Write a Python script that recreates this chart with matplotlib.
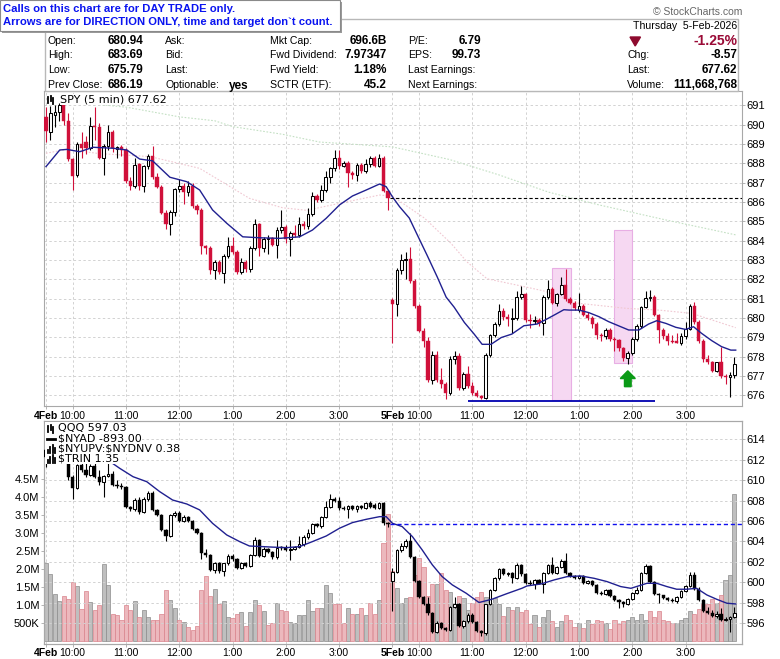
import matplotlib.pyplot as plt
from matplotlib.patches import Rectangle, Polygon, FancyArrow
from matplotlib.lines import Line2D
import numpy as np

plt.rcParams['font.family'] = ['Liberation Sans', 'DejaVu Sans']

# ---- SPY 5 min bars, 4-Feb then 5-Feb (78 bars per session) ----
spy_open = [
    690.4, 689.6, 690.5, 690.65, 691.0, 690.2, 688.2, 687.4, 689.0, 689.1,
    688.8, 689.95, 689.9, 688.3, 688.9, 689.6, 688.75, 688.85, 688.7, 687.1,
    686.85, 687.95, 686.85, 687.85, 688.4, 687.3, 686.8, 685.45, 684.85, 685.5,
    686.65, 686.85, 686.5, 686.85, 685.8, 685.6, 683.7, 683.6, 682.5, 682.9,
    682.35, 683.2, 683.7, 683.4, 682.4, 682.9, 682.55, 683.6, 684.85, 683.6,
    684.1, 684.15, 683.8, 684.55, 684.7, 684.1, 684.4, 684.3, 684.85, 684.75,
    685.4, 686.3, 686.1, 686.6, 687.3, 687.75, 688.3, 687.85, 688.0, 687.5,
    687.4, 687.9, 687.6, 687.95, 688.3, 687.85, 688.3, 686.55,
    680.94, 680.75, 682.5, 683.0, 683.05, 681.9, 680.6, 679.35, 678.8, 676.8,
    678.1, 676.8, 676.6, 676.1, 677.9, 678.05, 676.4, 677.1, 676.5, 676.1,
    675.95, 675.85, 678.1, 679.1, 679.7, 680.35, 680.05, 679.95, 680.0, 681.1,
    681.25, 679.9, 679.85, 679.9, 679.75, 681.1, 681.5, 680.8, 681.25, 681.7,
    681.0, 680.8, 680.4, 680.62, 680.15, 680.0, 679.7, 679.1, 679.05, 679.4,
    678.9, 678.85, 678.45, 677.95, 678.2, 678.9, 679.6, 680.55, 681.05, 681.1,
    680.15, 679.4, 679.05, 678.8, 678.8, 678.72, 679.05, 679.45, 680.6, 679.8,
    678.8, 677.9, 677.7, 677.25, 677.7, 677.0, 676.95, 677.05,
]
spy_high = [
    690.9, 690.95, 691.0, 691.1, 691.2, 690.6, 688.3, 689.1, 689.6, 689.4,
    690.4, 690.9, 690.1, 689.0, 690.0, 689.7, 688.9, 688.95, 688.8, 687.3,
    688.3, 688.0, 687.9, 688.5, 688.9, 687.5, 686.9, 685.6, 685.6, 686.7,
    687.2, 687.0, 687.1, 687.0, 685.9, 685.7, 683.8, 683.7, 683.0, 683.0,
    683.3, 684.2, 684.2, 683.5, 683.1, 683.0, 683.7, 685.1, 684.9, 684.2,
    684.3, 684.2, 684.7, 685.6, 684.8, 684.5, 684.8, 685.2, 685.0, 685.7,
    686.5, 686.4, 686.9, 687.6, 687.8, 688.7, 688.7, 688.1, 688.1, 687.6,
    688.0, 688.0, 688.2, 688.4, 688.4, 688.5, 688.4, 686.6,
    681.05, 682.6, 683.3, 683.4, 683.69, 682.0, 680.7, 679.5, 679.0, 678.3,
    678.3, 677.4, 676.7, 678.05, 678.3, 678.2, 677.2, 677.5, 676.7, 676.3,
    676.0, 678.2, 679.15, 679.8, 680.7, 680.5, 680.2, 680.5, 681.4, 681.65,
    681.3, 680.2, 680.1, 680.0, 681.2, 681.95, 681.6, 681.3, 682.1, 682.55,
    681.1, 680.9, 681.3, 680.7, 680.3, 680.1, 679.8, 679.2, 679.5, 679.5,
    679.0, 678.9, 678.5, 678.3, 679.0, 679.7, 680.6, 681.4, 681.45, 681.2,
    680.2, 679.5, 679.2, 679.1, 679.2, 679.2, 679.8, 680.7, 680.85, 679.9,
    678.9, 678.1, 677.8, 677.75, 678.5, 677.1, 677.2, 678.0,
]
spy_low = [
    689.1, 689.2, 689.9, 690.2, 690.0, 688.1, 686.6, 687.3, 688.3, 688.5,
    688.7, 689.2, 688.2, 687.4, 688.7, 688.6, 688.3, 688.4, 687.0, 686.6,
    686.7, 686.6, 686.5, 687.7, 687.2, 686.7, 685.4, 684.6, 684.3, 685.3,
    686.5, 685.9, 686.3, 685.7, 685.4, 683.3, 683.3, 682.3, 682.0, 682.3,
    681.8, 683.1, 683.3, 682.3, 682.3, 682.4, 682.4, 683.5, 683.2, 683.4,
    683.3, 683.7, 683.1, 684.4, 683.9, 683.2, 684.2, 684.2, 684.6, 684.6,
    685.3, 686.0, 686.0, 686.5, 687.0, 687.6, 687.7, 687.8, 686.8, 687.2,
    687.1, 687.5, 687.5, 687.8, 687.8, 687.8, 686.5, 685.6,
    678.7, 680.1, 682.3, 682.0, 681.8, 680.5, 679.3, 678.5, 676.7, 676.6,
    676.7, 676.4, 675.8, 676.0, 677.6, 676.3, 676.3, 676.4, 676.0, 675.9,
    675.79, 675.8, 678.0, 679.0, 679.6, 679.9, 679.6, 679.2, 679.9, 681.0,
    679.8, 679.5, 679.7, 679.6, 679.1, 681.0, 680.7, 680.6, 681.2, 680.9,
    680.7, 680.4, 680.3, 680.1, 679.9, 679.5, 678.9, 678.8, 678.9, 678.8,
    678.3, 678.3, 677.8, 677.6, 678.1, 678.8, 679.5, 680.5, 680.9, 680.1,
    678.7, 678.9, 678.6, 678.7, 678.7, 678.6, 678.9, 679.4, 679.7, 678.7,
    677.7, 677.6, 677.2, 677.2, 676.9, 676.6, 675.9, 676.9,
]
spy_close = [
    689.65, 690.6, 690.65, 691.0, 690.2, 688.2, 687.35, 689.0, 688.8, 688.8,
    689.95, 689.9, 688.3, 688.9, 689.6, 688.8, 688.85, 688.7, 687.1, 686.85,
    687.9, 686.85, 687.85, 688.4, 687.3, 686.8, 685.45, 684.85, 685.5, 686.65,
    686.85, 686.5, 686.85, 685.8, 685.6, 683.7, 683.6, 682.5, 682.9, 682.4,
    683.2, 683.7, 683.4, 682.4, 682.9, 682.55, 683.6, 684.85, 683.6, 684.1,
    684.15, 683.8, 684.55, 684.7, 684.1, 684.4, 684.3, 684.85, 684.75, 685.4,
    686.3, 686.1, 686.6, 687.3, 687.75, 688.3, 687.85, 688.0, 687.5, 687.4,
    687.9, 687.6, 687.95, 688.3, 687.85, 688.3, 686.55, 686.19,
    680.75, 682.5, 683.0, 683.05, 681.9, 680.6, 679.35, 678.8, 676.8, 678.1,
    676.8, 676.6, 676.1, 677.9, 678.05, 676.4, 677.1, 676.5, 676.1, 675.95,
    675.85, 678.1, 679.1, 679.7, 680.35, 680.05, 679.95, 680.0, 681.1, 681.25,
    679.9, 679.85, 679.9, 679.75, 681.1, 681.5, 680.8, 681.25, 681.7, 681.0,
    680.8, 680.5, 680.62, 680.15, 680.0, 679.7, 679.1, 679.05, 679.4, 678.9,
    678.85, 678.45, 677.95, 678.2, 678.9, 679.6, 680.55, 681.05, 681.1, 680.15,
    679.4, 679.05, 678.8, 678.75, 678.72, 679.05, 679.45, 680.6, 679.8, 678.8,
    677.9, 677.7, 677.25, 677.7, 677.0, 676.95, 677.05, 677.62,
]

# SPY moving averages (bar position, price)
spy_ma_x = [0, 3.1, 4.7, 7.6, 10.6, 15.1, 18.2, 21.1, 24.0, 27.9, 31.7, 34.6, 37.5,
            40.7, 44.3, 48.1, 52.6, 57.1, 60.0, 63.1, 66.1, 69.0, 72.1, 75.1, 76.6,
            78.0, 79.6, 81.8, 83.6, 85.8, 88.1, 90.1, 91.9, 94.2, 96.4, 98.2, 100.2,
            102.5, 104.9, 107.6, 110.6, 112.8, 114.8, 116.6, 117.8, 120.0, 122.2,
            124.5, 126.7, 129.0, 131.2, 133.5, 135.7, 137.5, 139.6, 141.8, 144.0,
            145.8, 147.6, 149.9, 152.1, 154.2, 155.3]
spy_ma_y = [687.83, 688.69, 688.72, 688.6, 688.83, 688.78, 688.69, 688.22, 688.13,
            687.28, 687.05, 686.62, 685.59, 684.9, 684.2, 684.15, 684.12, 684.2,
            684.55, 685.16, 685.85, 686.31, 686.62, 686.93, 686.79, 686.27, 685.76,
            685.17, 684.3, 683.25, 682.12, 681.08, 680.56, 679.77, 679.17, 678.64,
            678.64, 678.99, 679.17, 679.6, 679.69, 679.95, 680.2, 680.43, 680.41,
            680.41, 680.28, 680.07, 679.81, 679.59, 679.38, 679.38, 679.69, 679.86,
            679.72, 679.52, 679.41, 679.55, 679.21, 678.83, 678.52, 678.34, 678.34]
spy_ma50_x = [0, 4.7, 12.1, 23.4, 34.6, 45.8, 53.3, 58.7, 66.1, 75.1, 78.0, 85.2,
              91.2, 94.8, 99.3, 106.1, 112.1, 120.0, 130.6, 138.0, 145.4, 155.3]
spy_ma50_y = [688.52, 688.72, 688.5, 688.35, 687.74, 686.19, 685.7, 685.57, 685.93,
              686.36, 686.3, 685.17, 683.86, 682.9, 682.03, 681.7, 681.4, 680.76,
              680.5, 680.41, 680.24, 679.5]
spy_ma200_x = [7.6, 10.6, 18.2, 30.1, 38.0, 42.0, 53.3, 61.6, 68.3, 78.0, 90.8,
               102.0, 113.3, 124.5, 139.6, 155.3]
spy_ma200_y = [691.3, 691.07, 690.9, 690.4, 690.2, 689.9, 689.5, 689.1, 689.0,
               688.85, 688.2, 687.4, 686.5, 685.85, 685.07, 684.3]

# ---- QQQ 5 min bars ----
qqq_open = [
    613.0, 612.3, 613.2, 613.5, 613.7, 611.8, 610.35, 609.2, 611.5, 611.0,
    610.5, 611.4, 610.3, 609.8, 610.4, 610.6, 609.5, 609.4, 609.3, 607.4,
    607.2, 608.1, 606.9, 608.2, 608.7, 607.1, 606.6, 605.1, 604.5, 606.6,
    606.8, 606.0, 606.4, 606.05, 605.2, 604.8, 602.85, 602.7, 601.2, 601.9,
    601.1, 601.85, 602.6, 602.3, 601.4, 601.9, 601.6, 602.7, 604.1, 602.6,
    603.3, 603.0, 602.5, 603.4, 603.35, 603.2, 603.3, 603.5, 603.8, 604.4,
    604.8, 605.7, 605.5, 606.4, 607.4, 608.2, 608.0, 607.3, 607.2, 607.5,
    607.2, 607.5, 607.3, 607.8, 607.6, 607.3, 607.75, 605.8,
    600.1, 601.05, 603.2, 603.6, 604.0, 602.5, 600.1, 598.6, 597.9, 596.98,
    595.1, 596.0, 595.5, 595.3, 597.6, 597.9, 595.7, 596.2, 596.85, 596.1,
    595.2, 595.0, 597.9, 599.3, 600.4, 601.3, 600.8, 600.9, 600.4, 601.7,
    600.8, 599.95, 599.85, 600.2, 599.85, 600.9, 601.7, 600.9, 601.5, 602.1,
    600.9, 600.6, 600.4, 600.6, 599.9, 600.1, 599.7, 599.0, 598.9, 599.3,
    598.7, 598.3, 598.1, 597.9, 598.4, 599.0, 599.3, 600.9, 601.6, 600.0,
    598.9, 598.75, 598.5, 598.3, 598.15, 598.6, 599.2, 599.6, 600.7, 599.4,
    598.3, 597.2, 597.0, 596.7, 596.9, 596.3, 596.4, 596.6,
]
qqq_high = [
    613.8, 613.5, 613.9, 614.0, 613.8, 611.9, 610.5, 611.6, 611.7, 611.9,
    611.6, 611.8, 611.0, 610.5, 611.9, 610.9, 610.0, 609.7, 609.4, 607.5,
    608.3, 608.4, 608.4, 608.9, 608.9, 607.2, 606.7, 605.2, 606.7, 607.0,
    607.0, 606.6, 606.5, 606.1, 605.3, 604.9, 603.3, 602.8, 602.0, 602.0,
    601.9, 602.8, 602.8, 602.4, 601.95, 602.0, 602.8, 604.4, 604.2, 603.5,
    603.4, 603.1, 604.1, 603.6, 603.7, 604.1, 603.6, 604.5, 604.6, 605.2,
    605.8, 605.8, 606.5, 608.0, 608.6, 608.4, 608.4, 607.5, 607.6, 607.6,
    607.6, 607.6, 607.9, 608.0, 607.8, 607.9, 607.9, 605.9,
    601.4, 603.3, 603.9, 604.2, 604.8, 602.6, 600.2, 598.7, 598.6, 597.1,
    596.2, 596.1, 595.6, 597.7, 598.6, 598.0, 596.3, 597.0, 597.0, 596.2,
    595.3, 597.9, 599.4, 600.5, 601.4, 601.4, 601.0, 601.0, 601.9, 601.8,
    600.9, 600.2, 600.3, 600.3, 601.0, 601.8, 602.5, 601.6, 602.3, 602.9,
    601.0, 600.7, 600.7, 600.7, 600.2, 600.2, 599.8, 599.2, 599.4, 599.4,
    598.8, 598.4, 598.2, 598.5, 599.1, 599.5, 601.0, 601.8, 601.7, 600.1,
    599.0, 598.8, 598.6, 598.5, 598.7, 599.3, 599.7, 601.0, 601.0, 599.5,
    598.4, 597.6, 597.3, 597.2, 597.5, 596.6, 596.7, 597.6,
]
qqq_low = [
    611.3, 612.0, 612.8, 612.9, 611.7, 610.0, 608.2, 609.1, 610.8, 610.3,
    610.4, 610.2, 609.5, 608.4, 610.3, 609.4, 609.2, 609.1, 607.3, 607.0,
    607.0, 606.7, 606.8, 608.0, 607.0, 606.5, 605.0, 604.0, 604.4, 606.4,
    605.9, 605.9, 605.9, 605.1, 604.7, 602.3, 602.5, 601.1, 600.9, 600.9,
    600.6, 601.7, 602.1, 601.3, 601.3, 601.5, 601.5, 602.6, 602.5, 602.5,
    602.9, 602.3, 602.3, 603.2, 603.1, 602.2, 603.2, 603.4, 603.6, 604.2,
    604.7, 605.4, 605.3, 606.3, 607.3, 607.9, 607.1, 607.1, 606.3, 607.1,
    606.9, 607.2, 607.2, 607.3, 607.2, 607.2, 605.6, 605.4,
    597.24, 600.9, 603.0, 603.4, 602.4, 600.0, 598.5, 597.8, 596.8, 595.0,
    595.0, 595.4, 595.2, 595.2, 597.5, 595.6, 595.5, 596.0, 596.0, 595.1,
    594.8, 594.9, 597.8, 599.2, 600.2, 600.7, 600.6, 599.9, 600.3, 600.6,
    599.8, 599.7, 599.4, 599.8, 599.0, 600.8, 600.8, 600.8, 601.4, 600.8,
    600.5, 600.3, 600.3, 599.8, 599.8, 599.6, 598.9, 598.8, 598.8, 598.6,
    598.2, 597.5, 597.6, 597.8, 598.3, 598.9, 599.2, 600.8, 599.9, 598.8,
    598.0, 598.4, 598.2, 598.1, 598.0, 598.5, 599.1, 599.5, 599.3, 598.2,
    597.1, 596.9, 596.6, 596.5, 596.2, 596.2, 595.1, 596.5,
]
qqq_close = [
    612.3, 613.2, 613.5, 613.7, 611.8, 610.35, 609.2, 611.5, 611.0, 610.5,
    611.4, 610.3, 609.8, 610.4, 610.6, 609.5, 609.4, 609.3, 607.4, 607.2,
    608.1, 606.9, 608.2, 608.7, 607.1, 606.6, 605.1, 604.5, 606.6, 606.8,
    606.0, 606.4, 606.05, 605.2, 604.8, 602.85, 602.7, 601.2, 601.9, 601.1,
    601.85, 602.6, 602.3, 601.4, 601.9, 601.6, 602.7, 604.1, 602.6, 603.3,
    603.0, 602.5, 603.4, 603.35, 603.2, 603.3, 603.5, 603.8, 604.4, 604.8,
    605.7, 605.5, 606.4, 607.4, 608.2, 608.0, 607.3, 607.2, 607.5, 607.2,
    607.5, 607.3, 607.8, 607.4, 607.3, 607.75, 605.8, 605.72,
    601.05, 603.2, 603.6, 604.0, 602.5, 600.1, 598.6, 597.9, 596.98, 595.1,
    596.0, 595.5, 595.3, 597.6, 597.9, 595.7, 596.2, 596.85, 596.1, 595.2,
    595.0, 597.9, 599.3, 600.4, 601.3, 600.8, 600.9, 600.4, 601.7, 600.8,
    599.95, 599.85, 600.2, 599.85, 600.9, 601.7, 600.9, 601.5, 602.1, 600.9,
    600.6, 600.4, 600.6, 599.9, 600.1, 599.7, 599.0, 598.9, 599.3, 598.7,
    598.3, 598.1, 597.9, 598.4, 599.0, 599.3, 600.9, 601.6, 600.0, 598.9,
    598.75, 598.5, 598.3, 598.15, 598.6, 599.2, 599.6, 600.7, 599.4, 598.3,
    597.2, 597.0, 596.7, 596.9, 596.3, 596.4, 596.6, 597.03,
]
# volume in millions
qqq_volume = [
    2.16, 1.86, 1.31, 1.11, 1.25, 1.16, 1.65, 1.53, 0.89, 1.38,
    1.10, 0.88, 1.00, 2.14, 1.56, 0.77, 0.73, 0.59, 1.00, 0.88,
    1.12, 0.68, 0.87, 0.68, 0.59, 0.60, 0.77, 1.42, 1.14, 0.91,
    0.60, 0.54, 0.41, 0.32, 0.43, 1.42, 1.80, 1.25, 1.46, 1.03,
    1.12, 0.68, 0.64, 0.77, 0.80, 0.43, 0.80, 1.14, 1.00, 0.85,
    0.45, 0.50, 1.07, 0.87, 0.85, 0.54, 0.50, 0.73, 0.73, 1.14,
    0.85, 0.91, 0.91, 1.56, 1.33, 1.03, 1.03, 0.50, 0.93, 0.77,
    0.77, 0.91, 0.73, 1.05, 0.77, 1.14, 2.71, 3.52,
    1.96, 1.47, 1.05, 1.19, 1.24, 1.84, 2.30, 2.07, 1.25, 1.60,
    1.60, 1.88, 1.42, 1.37, 1.03, 1.25, 1.19, 0.88, 1.05, 1.24,
    1.37, 1.24, 1.05, 1.19, 1.03, 0.70, 0.96, 0.87, 0.96, 0.80,
    0.87, 0.48, 0.73, 0.39, 0.66, 0.87, 0.55, 0.39, 0.55, 0.73,
    0.59, 0.41, 0.52, 0.36, 0.60, 0.48, 0.60, 0.57, 0.52, 0.33,
    0.59, 0.48, 0.55, 0.59, 0.66, 0.59, 0.77, 0.60, 0.85, 0.66,
    0.85, 0.59, 0.57, 0.52, 0.52, 0.59, 0.64, 0.85, 0.77, 0.89,
    1.03, 1.03, 1.16, 1.07, 1.28, 1.70, 1.84, 4.07,
]
qqq_ma_x = [13.9, 16.6, 19.6, 22.7, 25.6, 28.5, 31.7, 34.6, 37.5, 40.7, 43.6, 45.8,
            48.8, 51.0, 54.2, 57.1, 60.0, 63.1, 66.1, 69.0, 72.1, 75.1, 76.6, 78.0,
            80.2, 82.5, 84.7, 87.0, 89.2, 91.5, 94.6, 97.5, 100.4, 103.6, 107.2,
            108.3, 111.5, 114.4, 117.3, 120.4, 123.4, 126.3, 129.4, 131.7, 135.3,
            137.5, 139.8, 142.0, 144.3, 146.5, 148.8, 151.0, 153.3, 155.3]
qqq_ma_y = [611.97, 611.16, 610.34, 609.85, 608.88, 608.06, 607.67, 607.09, 605.78,
            604.64, 603.99, 603.56, 603.5, 603.45, 603.4, 603.5, 603.99, 604.54,
            605.3, 605.85, 606.17, 606.43, 606.43, 605.78, 605.46, 604.48, 603.18,
            601.71, 600.57, 599.75, 598.94, 598.03, 598.35, 598.87, 599.43, 599.65,
            599.85, 600.24, 600.56, 600.63, 600.4, 600.08, 599.59, 599.42, 599.91,
            599.91, 599.59, 599.33, 599.33, 599.42, 598.77, 598.35, 597.96, 597.89]

spy_prev_close = 686.19
qqq_prev_close = 605.72
support_level = 675.7

tick_pos = [0, 6, 18, 30, 42, 54, 66, 78, 84, 96, 108, 120, 132, 144]
tick_labels = ['4Feb', '10:00', '11:00', '12:00', '1:00', '2:00', '3:00',
               '5Feb', '10:00', '11:00', '12:00', '1:00', '2:00', '3:00']
vol_ticks = [0.5, 1.0, 1.5, 2.0, 2.5, 3.0, 3.5, 4.0, 4.5]
vol_labels = ['500K', '1.0M', '1.5M', '2.0M', '2.5M', '3.0M', '3.5M', '4.0M', '4.5M']

header_rows = [
    [('Open:', '680.94'), ('Ask:', ''), ('Mkt Cap:', '696.6B'), ('P/E:', '6.79')],
    [('High:', '683.69'), ('Bid:', ''), ('Fwd Dividend:', '7.97347'), ('EPS:', '99.73')],
    [('Low:', '675.79'), ('Last:', ''), ('Fwd Yield:', '1.18%'), ('Last Earnings:', '')],
    [('Prev Close:', '686.19'), ('Optionable:', 'yes'), ('SCTR (ETF):', '45.2'),
     ('Next Earnings:', '')],
]
quote_rows = [('Chg:', '-8.57'), ('Last:', '677.62'), ('Volume:', '111,668,768')]

# ---------------- drawing ----------------
W, H = 780, 659
fig = plt.figure(figsize=(W / 100, H / 100), dpi=100)
GRID = '#d2d2d2'
SPINE = '#a8a8a8'
RED = '#d0103a'


def fx(px):
    return px / W


def fy(py):
    return 1 - py / H


def ftext(x, y, s, ha='left', size=7.5, **kw):
    fig.text(fx(x), fy(y), s, ha=ha, va='center', fontsize=size, **kw)


def add_axes_px(left, top, right, bottom):
    return fig.add_axes([fx(left), fy(bottom), (right - left) / W, (bottom - top) / H])


def candles(ax, o, h, l, c, down_color, min_body):
    o, h, l, c = map(np.asarray, (o, h, l, c))
    x = np.arange(len(c))
    up = c >= o
    lo = np.minimum(o, c)
    hh = np.maximum(np.abs(c - o), min_body)
    ax.vlines(x[up], l[up], h[up], colors='black', lw=0.8, zorder=3)
    ax.vlines(x[~up], l[~up], h[~up], colors=down_color, lw=0.8, zorder=3)
    ax.bar(x[up], hh[up], bottom=lo[up], width=0.6, color='white',
           edgecolor='black', linewidth=0.75, zorder=4)
    ax.bar(x[~up], hh[~up], bottom=lo[~up], width=0.72, color=down_color,
           edgecolor=down_color, linewidth=0.3, zorder=4)


def style_axes(ax):
    for s in ax.spines.values():
        s.set_color(SPINE)
    ax.tick_params(colors='black', labelsize=8, length=2, width=0.6, pad=1.5)
    ax.tick_params(axis='both', color=SPINE)


def set_time_ticks(ax):
    ax.set_xticks(tick_pos)
    ax.set_xticklabels(tick_labels, fontsize=7.5)
    for t in ax.get_xticklabels():
        if 'Feb' in t.get_text():
            t.set_fontweight('bold')


def icon_candles(x, y):
    for dx, a, b in [(1, -3, 3), (3.5, -4, 1), (6, -2, 4)]:
        fig.add_artist(Line2D([fx(x + dx)] * 2, [fy(y + b), fy(y + a)],
                              color='black', lw=1.3, zorder=11))


def icon_bars(x, y):
    for dx, top in [(1, 1), (3.5, -2), (6, -4), (8.5, -1)]:
        fig.add_artist(Line2D([fx(x + dx)] * 2, [fy(y + 4), fy(y + top)],
                              color='black', lw=1.3, zorder=11))


# ---- top panel: SPY ----
ax1 = add_axes_px(44.3, 91, 741.5, 406)
style_axes(ax1)
ax1.set_xlim(-0.38, 156.6)
ax1.set_ylim(675.45, 691.74)
ax1.yaxis.tick_right()
ax1.set_yticks(range(676, 692))
set_time_ticks(ax1)
ax1.grid(True, color=GRID, ls=(0, (2.5, 2.5)), lw=0.7)
ax1.set_axisbelow(True)

ax1.add_patch(Rectangle((113.9, 675.76), 4.2, 6.84, facecolor='#f6d8f2',
                        edgecolor='#e8aee4', lw=0.8, zorder=1))
ax1.add_patch(Rectangle((127.9, 677.69), 4.1, 6.86, facecolor='#f6d8f2',
                        edgecolor='#e8aee4', lw=0.8, zorder=1))
ax1.plot(spy_ma200_x, spy_ma200_y, color='#c4e0c4', lw=0.8, ls=(0, (1.5, 1.5)), zorder=2)
ax1.plot(spy_ma50_x, spy_ma50_y, color='#f0c8d2', lw=0.8, ls=(0, (1.5, 1.5)), zorder=2)
candles(ax1, spy_open, spy_high, spy_low, spy_close, RED, 0.05)
ax1.plot(spy_ma_x, spy_ma_y, color='#202090', lw=1.0, zorder=5)
ax1.hlines(spy_prev_close, 77.5, 156.6, colors='black', lw=0.8,
           linestyles=(0, (3, 2)), zorder=5)
ax1.hlines(support_level, 95.1, 137.1, colors='#0000b0', lw=1.3, zorder=5)
ax1.add_patch(FancyArrow(131, 676.45, 0, 0.82, width=1.5, head_width=3.4,
                         head_length=0.4, length_includes_head=True,
                         color='#0a9a16', zorder=6))

ftext(60, 99.5, 'SPY (5 min) 677.62', size=8, family='DejaVu Sans',
      bbox=dict(facecolor='white', edgecolor='none', pad=0.3), zorder=10)
icon_candles(47, 99.5)

# ---- bottom panel: QQQ + volume ----
ax2 = add_axes_px(44.3, 421, 741.5, 643.5)
style_axes(ax2)
ax2.set_xlim(-0.38, 156.6)
ax2.set_ylim(-0.06, 6.10)
ax2.set_yticks(vol_ticks)
ax2.set_yticklabels(vol_labels)
set_time_ticks(ax2)
ax2.grid(True, axis='x', color=GRID, ls=(0, (2.5, 2.5)), lw=0.7)
ax2.set_axisbelow(True)

qc = np.asarray(qqq_close)
vol_up = np.concatenate([[True], qc[1:] >= qc[:-1]])
xv = np.arange(len(qqq_volume))
vol = np.asarray(qqq_volume)
ax2.bar(xv[vol_up], vol[vol_up], width=0.92, color='#bfbfbf', edgecolor='#8c8c8c',
        linewidth=0.5, zorder=2)
ax2.bar(xv[~vol_up], vol[~vol_up], width=0.92, color='#ecb8bd', edgecolor='#d9838c',
        linewidth=0.5, zorder=2)

ax2p = ax2.twinx()
style_axes(ax2p)
ax2p.set_ylim(594.02, 615.79)
ax2p.set_yticks(range(596, 615, 2))
ax2p.grid(True, axis='y', color=GRID, ls=(0, (2.5, 2.5)), lw=0.7)
ax2p.set_axisbelow(True)
candles(ax2p, qqq_open, qqq_high, qqq_low, qqq_close, 'black', 0.1)
ax2p.plot(qqq_ma_x, qqq_ma_y, color='#202090', lw=1.0, zorder=5)
ax2p.hlines(qqq_prev_close, 77.5, 156.6, colors='#1010ee', lw=1.0,
            linestyles=(0, (3, 2)), zorder=5)

# legend block on the lower panel (covers the first bars, as on the site)
fig.add_artist(Rectangle((fx(44.9), fy(464)), (108 - 44.9) / W, (464 - 421.6) / H,
                         transform=fig.transFigure, facecolor='white',
                         edgecolor='none', zorder=9))
leg_bbox = dict(facecolor='white', edgecolor='none', pad=0.4)
ftext(58, 428.5, 'QQQ 597.03', size=8, family='DejaVu Sans', bbox=leg_bbox, zorder=10)
ftext(58, 438.8, r'\$NYAD -893.00', size=8, family='DejaVu Sans', bbox=leg_bbox, zorder=10)
ftext(58, 448.8, r'\$NYUPV:\$NYDNV 0.38', size=8, family='DejaVu Sans', bbox=leg_bbox,
      zorder=10)
ftext(58, 458.6, r'\$TRIN 1.35', size=8, family='DejaVu Sans', bbox=leg_bbox, zorder=10)
icon_candles(47, 428.5)
fig.add_artist(Line2D([fx(47), fx(55)], [fy(438.8)] * 2, color='black', lw=2, zorder=11))
icon_bars(46.5, 448.8)
icon_bars(46.5, 458.6)

# ---- header ----
fig.add_artist(Rectangle((fx(45), fy(91)), (738 - 45) / W, (91 - 19) / H,
                         transform=fig.transFigure, facecolor='white',
                         edgecolor='#b8b8b8', lw=1, zorder=1))
row_y = [41.5, 55.5, 70, 84.5]
label_x = [48, 165, 270, 408]
value_x = [143, 249, 387, 481]
for r, row in enumerate(header_rows):
    for c, (lab, val) in enumerate(row):
        ftext(label_x[c], row_y[r], lab, size=7.6)
        if val:
            ftext(value_x[c], row_y[r] + (1 if val == 'yes' else 0), val,
                  ha='right', size=8.5, fontweight='bold')

ftext(737, 26, 'Thursday  5-Feb-2026', ha='right', size=7.6)
fig.add_artist(Polygon([(fx(630), fy(37)), (fx(640.5), fy(37)), (fx(635.2), fy(46))],
                       closed=True, transform=fig.transFigure, color='#8e0a2e'))
ftext(737, 41, '-1.25%', ha='right', size=10, fontweight='bold', color='#9a0a36')
for r, (lab, val) in enumerate(quote_rows):
    ftext(627, row_y[r + 1], lab, size=7.6)
    ftext(737, row_y[r + 1], val, ha='right', size=8.5, fontweight='bold')
ftext(742, 12, '\u00a9 StockCharts.com', ha='right', size=7.5, color='#666666')

# note box
fig.add_artist(Rectangle((fx(2), fy(33)), 340 / W, 31 / H, transform=fig.transFigure,
                         facecolor='#9a9a9a', edgecolor='none', zorder=20))
fig.add_artist(Rectangle((fx(0), fy(31)), 340 / W, 31 / H, transform=fig.transFigure,
                         facecolor='white', edgecolor='#8a8a8a', lw=0.8, zorder=21))
ftext(3, 8.5, 'Calls on this chart are for DAY TRADE only.', size=8.1,
      fontweight='bold', color='#0a14f0', zorder=22)
ftext(3, 22, 'Arrows are for DIRECTION ONLY, time and target don`t count.', size=8.1,
      fontweight='bold', color='#0a14f0', zorder=22)

fig.savefig('out.png', dpi=100, facecolor='white')
